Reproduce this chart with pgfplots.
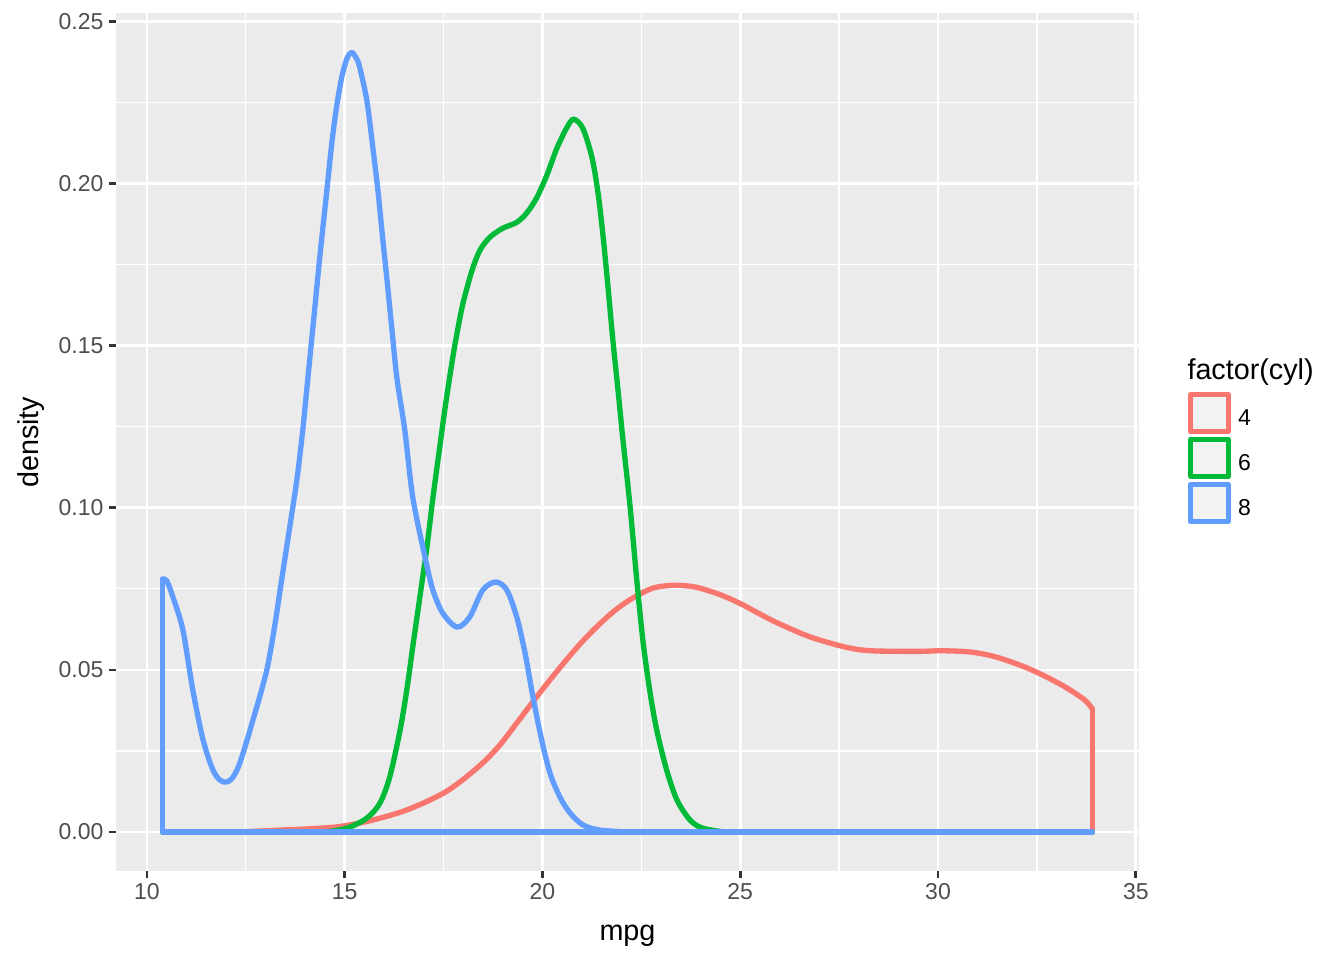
\documentclass[border=0pt]{standalone}
\usepackage{pgfplots}
\pgfplotsset{compat=1.18}
\usepackage{fontspec}
\setmainfont{Liberation Sans}
\definecolor{c4}{HTML}{F8766D}
\definecolor{c6}{HTML}{00BA38}
\definecolor{c8}{HTML}{619CFF}
\definecolor{panelbg}{HTML}{EBEBEB}
\definecolor{keyfill}{HTML}{F2F2F2}
\definecolor{ticklab}{HTML}{4D4D4D}
\definecolor{tickcol}{HTML}{333333}
\newcommand{\lentry}[1]{\raisebox{0pt}[11.5pt][0pt]{#1}}
\begin{document}
\begin{tikzpicture}
\path[use as bounding box] (0,0) rectangle (537.6pt,384pt);
\begin{axis}[
  at={(46.5pt,35.6pt)}, anchor=south west,
  scale only axis, width=409pt, height=343pt,
  xmin=9.225, xmax=35.075, ymin=-0.01202, ymax=0.2524,
  axis background/.style={fill=panelbg},
  axis line style={draw=none},
  xtick={10,15,20,25,30,35}, ytick={0,0.05,0.1,0.15,0.2,0.25},
  minor xtick={12.5,17.5,22.5,27.5,32.5},
  minor ytick={0.025,0.075,0.125,0.175,0.225},
  grid=both,
  major grid style={white, line width=1.07pt},
  minor grid style={white, line width=0.53pt},
  tick align=outside, tick pos=left,
  major tick length=2.75pt, minor tick length=0pt,
  tick style={tickcol, line width=1.07pt},
  /pgf/number format/assume math mode=true,
  xticklabel style={font=\fontsize{9.2}{10}\selectfont, text=ticklab, inner sep=0pt},
  yticklabel style={font=\fontsize{9.2}{10}\selectfont, text=ticklab, inner sep=0pt,
     /pgf/number format/.cd, fixed, fixed zerofill, precision=2},
  xticklabel shift=2.2pt, yticklabel shift=2.2pt,
  xlabel={mpg}, ylabel={density},
  label style={font=\fontsize{11.5}{13}\selectfont},
  xlabel style={at={(axis description cs:0.5,-0.0805)}, anchor=base},
  ylabel style={at={(axis description cs:-0.0765,0.5)}, anchor=base},
  legend style={at={(axis description cs:1.0482,0.5589)}, anchor=north west,
     draw=none, fill=none, inner sep=0pt, outer sep=0pt,
     row sep=1.0pt, column sep=3pt, font=\fontsize{9.2}{10}\selectfont,
     nodes={inner sep=0pt}, cells={anchor=west}},
  legend image code/.code={\draw[#1, line width=2pt, fill=keyfill] (0pt,-7.5pt) rectangle (15pt,7.5pt);},
  every axis plot/.append style={line width=2.13pt, line join=round, line cap=round},
]
% cyl = 4
\addplot[c4, smooth, tension=0.5] coordinates {
(12.5,0.0001) (13.36,0.0006) (14.1,0.0010) (14.88,0.0017) (15.71,0.0037)
(16.57,0.0068) (17.41,0.0114) (17.91,0.0154) (18.49,0.0213) (18.92,0.0268) (19.35,0.0336)
(19.76,0.0402) (20.19,0.0469) (20.62,0.0533) (21.02,0.0589) (21.45,0.0642) (21.88,0.0688)
(22.29,0.0722) (22.79,0.0752) (23.32,0.0761) (23.88,0.0755) (24.51,0.0731) (25.04,0.0702)
(25.85,0.0650) (26.76,0.0602) (27.67,0.0570) (28.30,0.0559) (29.46,0.0557) (30.10,0.0559)
(30.83,0.0555) (31.46,0.0540) (32.17,0.0510) (32.73,0.0479) (33.26,0.0444) (33.71,0.0407)
(33.9,0.038)
};
\addlegendentry{\lentry{4}}
\addplot[c4, sharp plot, forget plot] coordinates {(33.9,0.038) (33.9,0) (10.4,0)};
% cyl = 6
\addplot[c6, smooth, tension=0.5] coordinates {
(14.5,0) (15.06,0.0012) (15.56,0.0043) (15.89,0.0089) (16.14,0.0170) (16.40,0.0314)
(16.57,0.0438) (16.72,0.0570) (16.90,0.0724) (17.08,0.0879) (17.23,0.1030) (17.41,0.1193)
(17.53,0.1301) (17.71,0.1446) (17.84,0.1538) (17.99,0.1630) (18.22,0.1732) (18.42,0.1794)
(18.67,0.1834) (19.00,0.1862) (19.35,0.1880) (19.61,0.1910) (19.86,0.1957) (20.11,0.2025)
(20.36,0.2107) (20.62,0.2173) (20.79,0.2198) (21.02,0.2170) (21.25,0.2081) (21.40,0.1975)
(21.53,0.1840) (21.65,0.1690) (21.78,0.1517) (21.91,0.1363) (22.03,0.1215) (22.21,0.1010)
(22.39,0.0770) (22.54,0.0590) (22.71,0.0438) (22.89,0.0314) (23.14,0.0191) (23.40,0.0099)
(23.73,0.0037) (24.05,0.0012) (24.6,0)
};
\addlegendentry{\lentry{6}}
\addplot[c6, sharp plot, forget plot] coordinates {(33.9,0) (10.4,0)};
% cyl = 8
\addplot[c8, smooth, tension=0.5] coordinates {
(10.4,0.078) (10.5,0.0775) (10.66,0.0724) (10.91,0.0623) (11.16,0.0438) (11.42,0.0284)
(11.67,0.0191) (11.85,0.0160) (12.0,0.0154) (12.15,0.0165) (12.35,0.0213) (12.68,0.0345)
(13.03,0.0499) (13.25,0.0650) (13.36,0.0740) (13.56,0.0900) (13.79,0.1085) (13.94,0.1239)
(14.04,0.1363) (14.20,0.1560) (14.37,0.1772) (14.55,0.1979) (14.68,0.2130) (14.80,0.2240)
(14.93,0.2330) (15.06,0.2386) (15.18,0.2404) (15.30,0.2385) (15.38,0.2358) (15.56,0.2256)
(15.71,0.2112) (15.84,0.1979) (15.94,0.1856) (16.07,0.1702) (16.19,0.1555) (16.32,0.1400)
(16.52,0.1239) (16.72,0.1033) (17.03,0.0848) (17.23,0.0746) (17.48,0.0675) (17.84,0.0632)
(18.16,0.0663) (18.49,0.0746) (18.82,0.0771) (19.10,0.0746) (19.35,0.0663) (19.56,0.0552)
(19.76,0.0416) (19.98,0.0284) (20.19,0.0182) (20.44,0.0108) (20.69,0.0060) (21.02,0.0022)
(21.45,0.0006) (22.2,0)
};
\addlegendentry{\lentry{8}}
\addplot[c8, sharp plot, forget plot] coordinates {(10.4,0.078) (10.4,0) (33.9,0)};
\end{axis}
\node[anchor=base west, font=\fontsize{11.5}{13}\selectfont, inner sep=0pt] at (474.8pt,232.3pt) {factor(cyl)};
\end{tikzpicture}
\end{document}
